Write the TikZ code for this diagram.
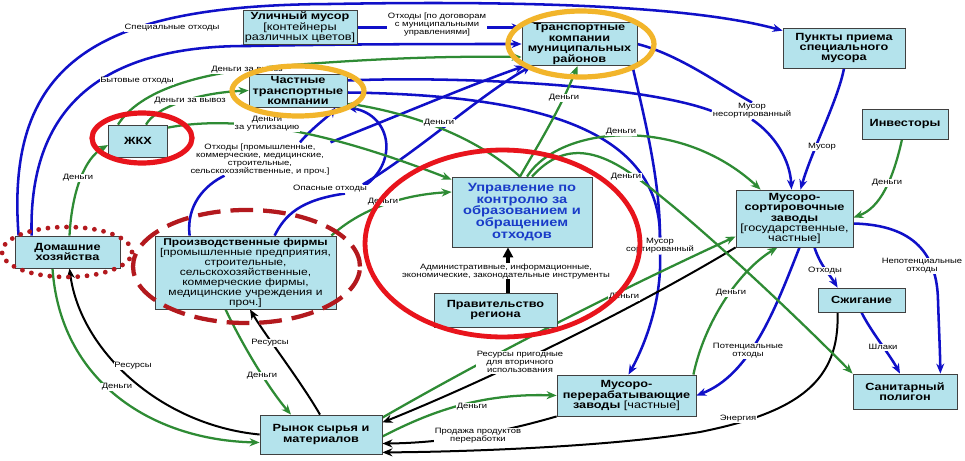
\documentclass[tikz,border=0pt]{standalone}
\usepackage{fontspec}
\setmainfont{Liberation Sans}[FakeStretch=1.22]
\usetikzlibrary{arrows.meta,calc}
\pgfdeclarelayer{bg}
\pgfdeclarelayer{edges}
\pgfsetlayers{bg,edges,main}
\definecolor{boxfill}{HTML}{B4E3EC}
\definecolor{wblue}{HTML}{1010C8}
\definecolor{mgreen}{HTML}{2E8B34}
\definecolor{bred}{HTML}{E8141C}
\definecolor{dred}{HTML}{B3191E}
\definecolor{ycol}{HTML}{F2B52B}
\definecolor{ublue}{HTML}{1A3CC8}
\tikzset{
  boxnode/.style={draw=black!75, line width=0.6pt, fill=boxfill, align=center, inner sep=1pt,
    font=\fontsize{7.8}{7.8}\selectfont},
  boxb/.style={boxnode, font=\fontsize{7.8}{7.8}\selectfont\bfseries},
  lab/.style={fill=white, inner sep=0.6pt, align=center, font=\fontsize{5.8}{6}\selectfont},
  wf/.style={draw=wblue, line width=1.9pt, -{Stealth[length=7.5pt,width=6pt]}},
  wfn/.style={draw=wblue, line width=1.9pt},
  mf/.style={draw=mgreen, line width=1.7pt, -{Stealth[length=7.5pt,width=6pt]}},
  rf/.style={draw=black, line width=1.5pt, -{Stealth[length=7.5pt,width=6pt]}},
}
\begin{document}
\begin{tikzpicture}[x=0.75pt, y=-0.75pt]
\useasboundingbox (0,0) rectangle (965,461);
\begin{pgfonlayer}{bg}
\fill[white] (0,0) rectangle (965,461);
\end{pgfonlayer}

% ---------- boxes ----------
\node[boxnode, minimum width=85.5pt, minimum height=23.25pt] (ulm) at (300,27.5) {\textbf{Уличный мусор}\\{[}контейнеры\\различных цветов]};
\node[boxb, minimum width=86.25pt, minimum height=31.5pt] (tmr) at (579.5,44) {Транспортные\\компании\\муниципальных\\районов};
\node[boxb, minimum width=91.5pt, minimum height=30pt] (pp) at (844,48) {Пункты приема\\специального\\мусора};
\node[boxb, minimum width=73.5pt, minimum height=24.75pt] (chtk) at (298,90.5) {Частные\\транспортные\\компании};
\node[boxb, minimum width=44.25pt, minimum height=24pt] (zhkh) at (138,141) {ЖКХ};
\node[boxb, minimum width=78.75pt, minimum height=24pt] (dom) at (67.5,252) {Домашние\\хозяйства};
\node[boxnode, font=\fontsize{7.4}{7.5}\selectfont, minimum width=135.75pt, minimum height=54.75pt] (proizv) at (245.5,272.5) {\textbf{Производственные фирмы}\\{[}промышленные предприятия,\\строительные,\\сельскохозяйственные,\\коммерческие фирмы,\\медицинские учреждения и\\проч.]};
\node[boxnode, font=\fontsize{9}{8.9}\selectfont\bfseries, text=ublue, minimum width=105pt, minimum height=52.5pt] (upr) at (522,212) {Управление по\\контролю за\\образованием и\\обращением\\отходов};
\node[boxb, minimum width=92.25pt, minimum height=25.5pt] (prav) at (495.5,310) {Правительство\\региона};
\node[boxnode, minimum width=87.75pt, minimum height=42.75pt] (msz) at (794.5,218.5) {\textbf{Мусоро-}\\\textbf{сортировочные}\\\textbf{заводы}\\{[}государственные,\\частные]};
\node[boxb, minimum width=64.5pt, minimum height=22.5pt] (inv) at (905,124) {Инвесторы};
\node[boxb, minimum width=65.25pt, minimum height=18pt] (szh) at (861.5,300) {Сжигание};
\node[boxb, minimum width=78pt, minimum height=26.25pt] (pol) at (905,391.5) {Санитарный\\полигон};
\node[boxnode, minimum width=104.25pt, minimum height=30.75pt] (mpz) at (626.5,395.5) {\textbf{Мусоро-}\\\textbf{перерабатывающие}\\\textbf{заводы} [частные]};
\node[boxb, minimum width=91.5pt, minimum height=29.25pt] (rynok) at (321,434.5) {Рынок сырья и\\материалов};

% ---------- labels ----------
\node[lab] (lspec) at (172,28) {Специальные отходы};
\node[lab] (lbyt) at (137,81) {Бытовые отходы};
\node[lab] (ldog) at (437,24.5) {Отходы [по договорам\\с муниципальными\\управлениями]};
\node[lab] (ldv1) at (247,70) {Деньги за вывоз};
\node[lab] (ldv2) at (190,101) {Деньги за вывоз};
\node[lab] (lutil) at (267,124) {Деньги\\за утилизацию};
\node[lab] (lotx) at (260,159) {Отходы [промышленные,\\коммерческие, медицинские,\\строительные,\\сельскохозяйственные, и проч.]};
\node[lab] (lop) at (330,189) {Опасные отходы};
\node[lab] (ld1) at (383,202) {Деньги};
\node[lab] (ld2) at (78,178) {Деньги};
\node[lab] (ld3) at (439,123) {Деньги};
\node[lab] (ld4) at (564,98) {Деньги};
\node[lab] (ld5) at (621,132) {Деньги};
\node[lab] (ld6) at (626,177) {Деньги};
\node[lab] (lmn) at (752,111) {Мусор\\несортированный};
\node[lab] (lm) at (822,147) {Мусор};
\node[lab] (ld7) at (887,183) {Деньги};
\node[lab] (lms) at (660,246) {Мусор\\сортированный};
\node[lab] (ladm) at (506,271) {Административные, информационные,\\экономические, законодательные инструменты};
\node[lab] (lotx2) at (825,271) {Отходы};
\node[lab] (lnep) at (922,266) {Непотенциальные\\отходы};
\node[lab] (ld8) at (624,297) {Деньги};
\node[lab] (ld9) at (731,293) {Деньги};
\node[lab] (lpot) at (748,351) {Потенциальные\\отходы};
\node[lab] (lshl) at (883,347) {Шлаки};
\node[lab] (lres) at (520,362) {Ресурсы пригодные\\для вторичного\\использования};
\node[lab] (ld10) at (472,407) {Деньги};
\node[lab] (lprod) at (478,436) {Продажа продуктов\\переработки};
\node[lab] (lenerg) at (738,419) {Энергия};
\node[lab] (lres1) at (133,366) {Ресурсы};
\node[lab] (ld11) at (117,387) {Деньги};
\node[lab] (lres2) at (270,343) {Ресурсы};
\node[lab] (ld12) at (262,376) {Деньги};

\coordinate (pa) at ($(prav.north)+(12.5,0)$);
\coordinate (uj) at ($(upr.north)+(-2,0)$);

\begin{pgfonlayer}{edges}
% ---------- blue: waste ----------
\draw[wf] ($(dom.north west)+(4,0)$) .. controls (5,60) and (100,5) .. (330,4) .. controls (550,0) and (700,8) .. ($(pp.north west)+(0,3)$);
\draw[wf] ($(dom.north west)+(17,0)$) .. controls (28,100) and (110,45) .. (250,46) .. controls (350,44) and (450,44) .. (tmr.west);
\draw[wf] (ulm.east) -- (ulm.east -| tmr.west);
\draw[wfn] ($(chtk.east)+(0,-10)$) .. controls (450,76) and (640,84) .. (lmn.west);
\draw[wfn] (tmr.east) .. controls (680,55) and (720,85) .. (lmn.north);
\draw[wf] (lmn.south) .. controls (775,135) and (790,160) .. ($(msz.north)+(-3,0)$);
\draw[wf] (pp.south) .. controls (838,100) and (812,150) .. ($(msz.north)+(6,0)$);
\draw[wfn] ($(chtk.east)+(0,2)$) .. controls (540,95) and (660,130) .. (lms.north);
\draw[wfn] ($(tmr.south east)+(-5,0)$) .. controls (645,120) and (660,180) .. (lms.north);
\draw[wf] (lms.south) .. controls (662,300) and (645,345) .. ($(mpz.north)+(2,0)$);
\draw[wfn] ($(proizv.north west)+(35,0)$) .. controls (186,205) and (205,185) .. ($(lotx.south west)+(35,0)$);
\draw[wf] ($(lotx.north)+(40,0)$) .. controls (312,128) and (330,115) .. ($(chtk.south east)+(-12,0)$);
\draw[wf] (lotx.north east) .. controls (400,115) and (470,85) .. ($(tmr.south west)+(3,0)$);
\draw[wfn] ($(proizv.north west)+(120,0)$) .. controls (285,215) and (300,200) .. ($(lop.south)+(15,0)$);
\draw[wf] ($(lop.north east)+(-5,0)$) .. controls (420,150) and (480,95) .. ($(tmr.south west)+(10,0)$);
\draw[wf] ($(lop.east)+(-8,0)$) .. controls (400,165) and (392,115) .. (chtk.south east);
\draw[wf] ($(msz.south)+(20,0)$) .. controls (820,265) and (830,275) .. ($(szh.north west)+(20,0)$);
\draw[wf] ($(msz.east)+(0,5)$) .. controls (915,225) and (937,255) .. (938,300) .. controls (939,330) and (940,350) .. ($(pol.north east)+(-17,0)$);
\draw[wf] ($(msz.south)+(5,0)$) .. controls (775,310) and (750,375) .. (mpz.east);
\draw[wf] (szh.south) .. controls (870,330) and (890,355) .. ($(pol.north)+(-5,0)$);

% ---------- black: resources ----------
\draw[draw=black, line width=2.6pt, -{Triangle[length=7.5pt,width=7.5pt]}] (pa) -- (pa |- upr.south);
\draw[rf] (rynok.west) .. controls (160,425) and (80,350) .. ($(dom.south)+(2,0)$);
\draw[rf] ($(rynok.north)+(-1,0)$) .. controls (300,380) and (265,335) .. ($(proizv.south)+(4.5,0)$);
\draw[rf] (msz.south west) .. controls (640,305) and (500,375) .. ($(rynok.east)+(0,-12)$);
\draw[rf] (mpz.south west) .. controls (510,430) and (450,443) .. ($(rynok.east)+(0,9)$);
\draw[rf] ($(szh.south)+(-24,0)$) .. controls (840,380) and (800,412) .. (700,432) .. controls (600,448) and (450,452) .. ($(rynok.south east)+(0,-2)$);

% ---------- green: money ----------
\draw[mf] ($(dom.north)+(2,0)$) .. controls (72,190) and (85,158) .. ($(zhkh.west)+(0,4)$);
\draw[mf] ($(zhkh.north)+(8,0)$) .. controls (155,108) and (195,93) .. (chtk.west);
\draw[mf] ($(zhkh.north)+(-20,0)$) .. controls (140,90) and (200,72) .. (280,66) .. controls (380,58) and (450,56) .. ($(tmr.west)+(0,13)$);
\draw[mf] ($(zhkh.north east)+(0,3)$) .. controls (250,112) and (350,140) .. ($(upr.north west)+(0,3)$);
\draw[mf] ($(proizv.north east)+(-5,0)$) .. controls (360,210) and (400,195) .. ($(upr.west)+(0,-20)$);
\draw[mf] ($(proizv.south)+(-20,0)$) .. controls (245,350) and (270,390) .. ($(rynok.north)+(-30,0)$);
\draw[mf] ($(dom.south)+(-15,0)$) .. controls (60,380) and (150,440) .. ($(rynok.west)+(0,8)$);
\draw[mf] ($(rynok.north east)+(0,3)$) .. controls (500,350) and (620,290) .. ($(msz.west)+(0,18)$);
\draw[mf] ($(mpz.north east)+(-3,0)$) .. controls (705,320) and (740,270) .. ($(msz.south)+(-17,0)$);
\draw[mf] ($(rynok.east)+(0,2)$) .. controls (430,412) and (480,393) .. (mpz.west);
\draw[mf] ($(inv.south)+(-3,0)$) .. controls (893,180) and (880,208) .. ($(msz.east)+(0,-1)$);
\draw[mf] (uj) .. controls (535,150) and (560,110) .. ($(tmr.south)+(-2,0)$);
\draw[mf] (uj) .. controls (480,140) and (420,115) .. ($(chtk.south east)+(0,-4)$);
\draw[mf] ($(upr.north)+(5,0)$) .. controls (560,125) and (680,115) .. ($(msz.north west)+(25,0)$);
\draw[mf] ($(upr.north)+(10,0)$) .. controls (565,140) and (600,150) .. (640,180) .. controls (700,225) and (800,320) .. (pol.north west);
\end{pgfonlayer}

% ---------- highlight ellipses ----------
\draw[ycol, line width=3.9pt] (581,44) ellipse [x radius=54.75pt, y radius=24.75pt];
\draw[ycol, line width=3.9pt] (298,91) ellipse [x radius=49.5pt, y radius=18.75pt];
\draw[bred, line width=3.9pt] (142,138) ellipse [x radius=37.5pt, y radius=18.75pt];
\draw[dred, line width=3.6pt, line cap=round, dash pattern=on 0pt off 7pt] (67,252) ellipse [x radius=48.75pt, y radius=18.75pt];
\draw[dred, line width=3.2pt, dash pattern=on 17pt off 7.5pt] (246.5,266.5) ellipse [x radius=85.1pt, y radius=42.4pt];
\draw[bred, line width=3.6pt] (502.5,243.5) ellipse [x radius=103.1pt, y radius=70.1pt];
\end{tikzpicture}
\end{document}
